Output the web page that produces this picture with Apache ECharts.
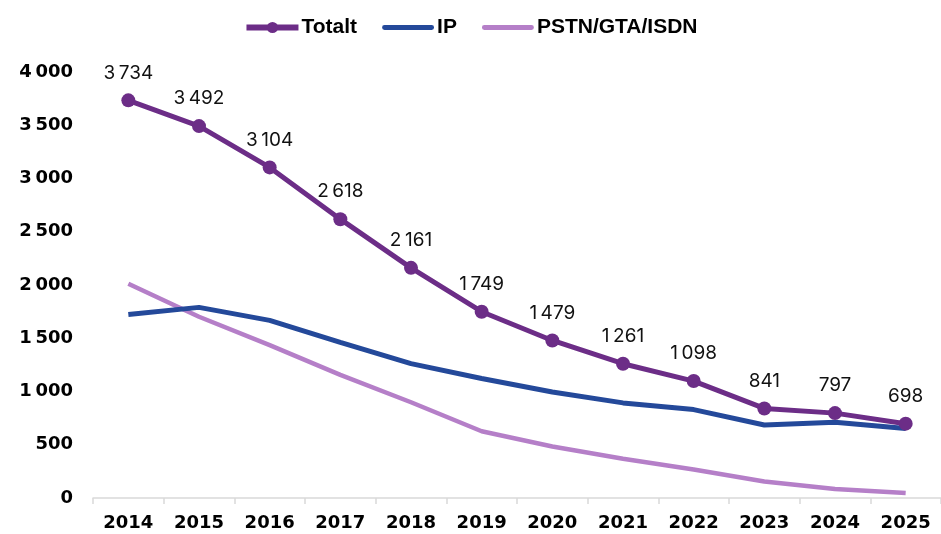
<!DOCTYPE html>
<html>
<head>
<meta charset="utf-8">
<script src="https://cdn.jsdelivr.net/npm/echarts@6/dist/echarts.min.js"></script>
<style>
  html, body { margin: 0; padding: 0; background: #fff; }
  #chart { width: 941px; height: 534px; }
</style>
</head>
<body>
<div id="chart"></div>
<script>
const years = ['2014', '2015', '2016', '2017', '2018', '2019', '2020', '2021', '2022', '2023', '2024', '2025']
const totalt = [3734, 3492, 3104, 2618, 2161, 1749, 1479, 1261, 1098, 841, 797, 698]
const ip = [1722, 1790, 1668, 1462, 1262, 1122, 996, 893, 830, 686, 712, 652]
const pstn = [2012, 1702, 1436, 1156, 899, 627, 483, 368, 268, 155, 85, 46]
const yTicks = [0, 500, 1000, 1500, 2000, 2500, 3000, 3500, 4000]

const fmt = (v) => {
  const s = String(v)
  return s.length > 3 ? s.slice(0, -3) + '\u2009' + s.slice(-3) : s
}

const barIcon = 'path://M2 0H98A2 2 0 0 1 98 10H2A2 2 0 0 1 2 0Z'

const chart = echarts.init(document.getElementById('chart'))
chart.setOption({
  backgroundColor: '#fff',
  animation: false,
  legend: {
    top: 12,
    left: 'center',
    itemWidth: 52,
    itemHeight: 14,
    itemGap: 25,
    textStyle: { fontFamily: 'Liberation Sans', fontWeight: 'bold', fontSize: 21, color: '#000', padding: [0, 0, 0, -2] },
    data: [
      { name: 'Totalt', lineStyle: { width: 6 } },
      { name: 'IP', icon: barIcon },
      { name: 'PSTN/GTA/ISDN', icon: barIcon },
    ],
  },
  grid: { left: 93, right: -10, top: 72, bottom: 36 },
  xAxis: {
    type: 'category',
    data: years,
    boundaryGap: true,
    axisLine: { lineStyle: { color: '#d9d9d9', width: 1.5 } },
    axisTick: { show: true, length: 6, lineStyle: { color: '#d9d9d9', width: 1.5 } },
    axisLabel: { color: '#000', fontFamily: 'DejaVu Sans', fontWeight: 'bold', fontSize: 18, margin: 16 },
  },
  yAxis: {
    type: 'value',
    min: yTicks[0],
    max: yTicks[yTicks.length - 1],
    interval: 500,
    splitLine: { show: false },
    axisLine: { show: false },
    axisTick: { show: false },
    axisLabel: { color: '#000', fontFamily: 'DejaVu Sans', fontWeight: 'bold', fontSize: 18, margin: 20, formatter: fmt },
  },
  series: [
    {
      name: 'IP',
      type: 'line',
      data: ip,
      symbol: 'none',
      lineStyle: { color: '#24499a', width: 5 },
      itemStyle: { color: '#24499a' },
      z: 2,
    },
    {
      name: 'PSTN/GTA/ISDN',
      type: 'line',
      data: pstn,
      symbol: 'none',
      lineStyle: { color: '#b57fc8', width: 4.5 },
      itemStyle: { color: '#b57fc8' },
      z: 1,
    },
    {
      name: 'Totalt',
      type: 'line',
      data: totalt,
      symbol: 'circle',
      symbolSize: 14,
      lineStyle: { color: '#6c2d87', width: 5 },
      itemStyle: { color: '#6c2d87' },
      label: {
        show: true,
        position: 'top',
        distance: 11,
        color: '#111',
        fontFamily: 'Inter',
        fontSize: 19,
        formatter: (p) => fmt(p.value),
      },
      z: 3,
    },
  ],
})
</script>
</body>
</html>
